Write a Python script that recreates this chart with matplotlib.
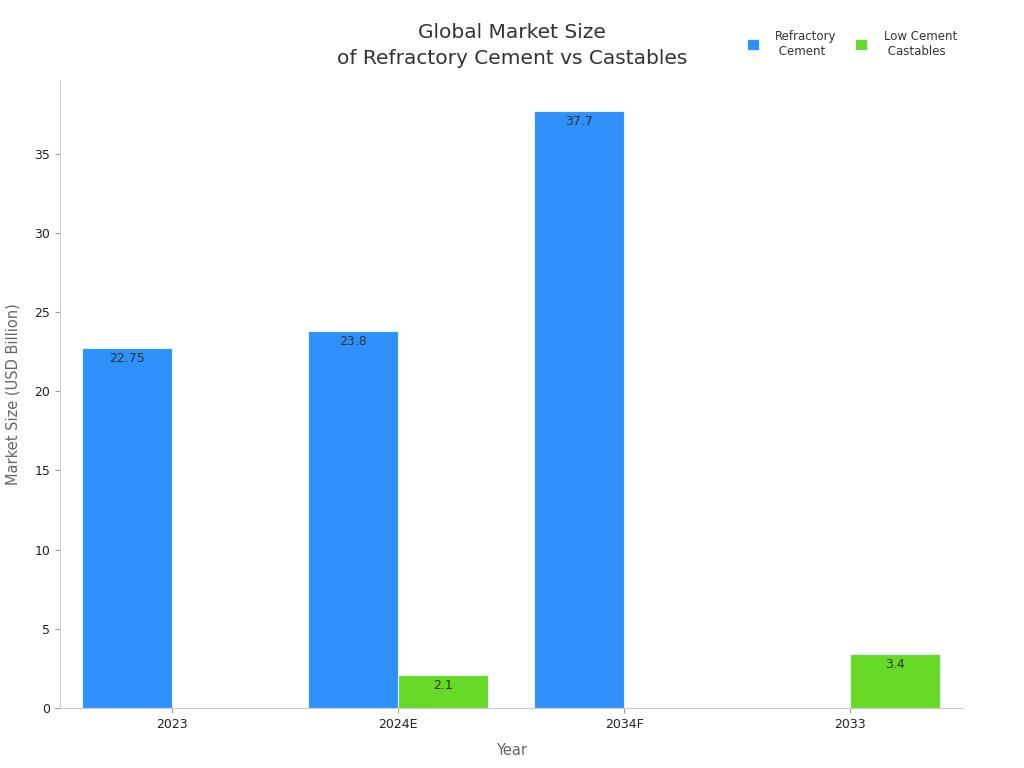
"""Global market size of refractory cement vs low cement castables."""

import matplotlib.pyplot as plt
import numpy as np

years = ['2023', '2024E', '2034F', '2033']
refractory_cement = [22.75, 23.8, 37.7, np.nan]
low_cement_castables = [np.nan, 2.1, np.nan, 3.4]

BLUE = '#2E91FA'
GREEN = '#66DA26'
GREY = '#CCCCCC'
TEXT = '#333333'

fig = plt.figure(figsize=(10.24, 7.68), dpi=100)
ax = fig.add_axes([0.0586, 0.0781, 0.8818, 0.8177])

x = np.arange(len(years))
width = 0.4
series = (
    (refractory_cement, -width / 2, BLUE, 'Refractory\n Cement'),
    (low_cement_castables, width / 2, GREEN, 'Low Cement\n Castables'),
)
for values, offset, color, label in series:
    bars = ax.bar(x + offset, values, width=width, color=color,
                  edgecolor='#E6F0FF', linewidth=0.8, label=label)
    for rect, v in zip(bars, values):
        if np.isnan(v):
            continue
        ax.annotate(f'{v:g}', (rect.get_x() + rect.get_width() / 2, v),
                    xytext=(0, -3), textcoords='offset points',
                    ha='center', va='top', fontsize=9, color=TEXT)

ax.set_xticks(x)
ax.set_xticklabels(years, fontsize=9, color='#222222')
ax.set_xlim(-0.496, 3.5)
ax.set_ylim(0, 39.65)
ax.set_yticks(np.arange(0, 36, 5))
ax.tick_params(axis='y', labelsize=9, labelcolor='#222222', color='#999999')
ax.tick_params(axis='x', color='#999999')

for side in ('top', 'right'):
    ax.spines[side].set_visible(False)
for side in ('left', 'bottom'):
    ax.spines[side].set_color(GREY)

ax.set_xlabel('Year', fontsize=10.5, color='#666666', labelpad=9)
ax.set_ylabel('Market Size (USD Billion)', fontsize=10.5, color='#666666', labelpad=10)

fig.suptitle('Global Market Size\nof Refractory Cement vs Castables',
             x=0.5, y=0.97, fontsize=14.5, color=TEXT, linespacing=1.45)

fig.legend(loc='upper right', bbox_to_anchor=(0.945, 0.975), ncol=2,
           frameon=False, fontsize=8.5, handlelength=1.0, handleheight=1.0,
           columnspacing=1.6, handletextpad=1.4, labelcolor=TEXT)

fig.savefig('out.png', dpi=100)
